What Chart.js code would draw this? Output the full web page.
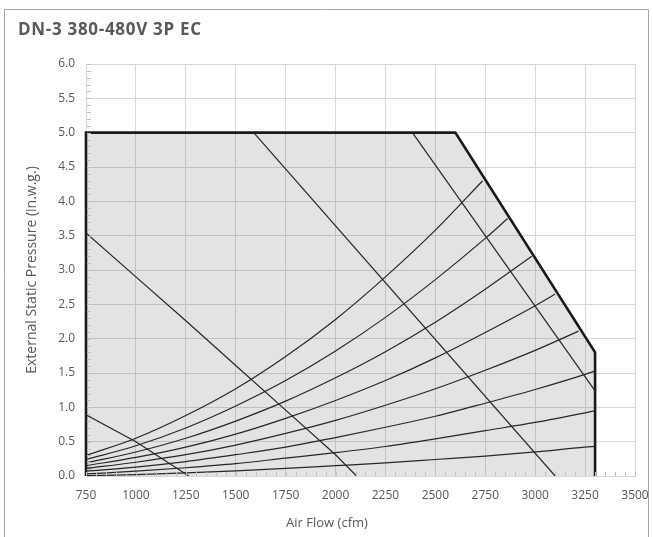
<!DOCTYPE html>
<html>
<head>
<meta charset="utf-8">
<title>DN-3 380-480V 3P EC</title>
<script src="https://cdn.jsdelivr.net/npm/chart.js@4/dist/chart.umd.min.js"></script>
<style>
    html, body { margin: 0; padding: 0; background: #fff; overflow: hidden; }
    canvas { display: block; }
</style>
</head>
<body>
<canvas id="fanChart" width="653" height="537"></canvas>
<script>
    // values
    const chartTitle = 'DN-3 380-480V 3P EC';
    const xTitle = 'Air Flow (cfm)';
    const yTitle = 'External Static Pressure (in.w.g.)';

    // operating envelope (shaded area)
    const limitFlow = [750, 750, 2600, 3300, 3300];
    const limitEsp = [0, 5.0, 5.0, 1.8, 0];

    // system curves, sampled every 250 cfm, each one closed at the envelope
    const systemFlow = [750, 1000, 1250, 1500, 1750, 2000, 2250, 2500, 2750, 3000, 3250];
    const systemEsp = [
        [0.30, 0.55, 0.88, 1.27, 1.74, 2.28, 2.90, 3.58],
        [0.24, 0.44, 0.70, 1.02, 1.39, 1.82, 2.31, 2.86, 3.46],
        [0.19, 0.35, 0.55, 0.80, 1.09, 1.43, 1.81, 2.24, 2.72],
        [0.15, 0.27, 0.42, 0.61, 0.84, 1.10, 1.39, 1.72, 2.09, 2.48],
        [0.11, 0.20, 0.31, 0.45, 0.62, 0.81, 1.03, 1.27, 1.54, 1.83],
        [0.07, 0.13, 0.21, 0.31, 0.42, 0.56, 0.71, 0.87, 1.06, 1.26, 1.48],
        [0.03, 0.07, 0.12, 0.18, 0.26, 0.34, 0.43, 0.54, 0.66, 0.78, 0.92],
        [0.005, 0.02, 0.045, 0.075, 0.11, 0.15, 0.19, 0.24, 0.29, 0.35, 0.42]
    ];
    const systemEndFlow = [2737, 2862, 2983, 3100, 3217, 3300, 3300, 3300];
    const systemEndEsp = [4.30, 3.75, 3.20, 2.65, 2.11, 1.53, 0.95, 0.43];

    // fan speed lines
    const fanFlow = [
        [750, 1000, 1265],
        [750, 1000, 1250, 1500, 1750, 2000, 2105],
        [1590, 3100],
        [2385, 3300]
    ];
    const fanEsp = [
        [0.89, 0.50, 0],
        [3.54, 2.90, 2.26, 1.61, 0.96, 0.31, 0],
        [5.0, 0],
        [5.0, 1.24]
    ];

    const xMin = 750, xMax = 3500, xStep = 250, xMinor = 50;
    const yMin = 0, yMax = 6, yStep = 0.5, yMinor = 0.1;

    const textColor = '#595959',
        gridColor = '#d9d9d9',
        lineColor = '#262626',
        fontFamily = '"Open Sans", Lato, sans-serif';

    const toPoints = (xs, ys) => ys.map((y, i) => ({x: xs[i], y: y}));

    const datasets = [];

    systemEsp.forEach((esp, i) => {
        const points = toPoints(systemFlow, esp);
        points.push({x: systemEndFlow[i], y: systemEndEsp[i]});
        datasets.push({
            data: points,
            borderColor: lineColor,
            borderWidth: 1.2,
            pointRadius: 0,
            cubicInterpolationMode: 'monotone',
            fill: false,
            order: 1
        });
    });

    fanFlow.forEach((flow, i) => {
        datasets.push({
            data: toPoints(flow, fanEsp[i]),
            borderColor: lineColor,
            borderWidth: 1.2,
            pointRadius: 0,
            tension: 0,
            fill: false,
            order: 1
        });
    });

    datasets.push({
        data: toPoints(limitFlow, limitEsp),
        borderColor: '#1a1a1a',
        borderWidth: 2.6,
        backgroundColor: 'rgba(0, 0, 0, 0.11)',
        pointRadius: 0,
        tension: 0,
        fill: 'origin',
        clip: 4,
        order: 10
    });

    // outer frame, titles and the small inside ticks
    const decorations = {
        id: 'decorations',
        beforeDraw(chart) {
            const ctx = chart.ctx;
            ctx.save();
            ctx.fillStyle = '#fff';
            ctx.fillRect(0, 0, chart.width, chart.height);
            ctx.strokeStyle = '#a6a6a6';
            ctx.lineWidth = 1;
            ctx.beginPath();
            ctx.moveTo(4.5, chart.height);
            ctx.lineTo(4.5, 9.5);
            ctx.lineTo(648.5, 9.5);
            ctx.lineTo(648.5, chart.height);
            ctx.stroke();
            ctx.fillStyle = textColor;
            ctx.textBaseline = 'middle';
            ctx.font = 'bold 17px ' + fontFamily;
            ctx.letterSpacing = '0.7px';
            ctx.fillText(chartTitle, 18, 30);
            ctx.letterSpacing = '0px';
            ctx.font = '13px ' + fontFamily;
            ctx.textAlign = 'center';
            ctx.fillText(xTitle, 327, 523);
            ctx.restore();
        },
        afterDatasetsDraw(chart) {
            const ctx = chart.ctx,
                x = chart.scales.x,
                y = chart.scales.y,
                area = chart.chartArea;
            ctx.save();
            ctx.strokeStyle = '#bfbfbf';
            ctx.lineWidth = 1;
            ctx.beginPath();
            for (let i = 0; i <= Math.round((yMax - yMin) / yMinor); i++) {
                const py = Math.round(y.getPixelForValue(yMin + i * yMinor)) + 0.5;
                ctx.moveTo(area.left + 1, py);
                ctx.lineTo(area.left + 5, py);
            }
            for (let i = 0; i <= Math.round((xMax - xMin) / xMinor); i++) {
                const px = Math.round(x.getPixelForValue(xMin + i * xMinor)) + 0.5;
                ctx.moveTo(px, area.bottom);
                ctx.lineTo(px, area.bottom - 4);
            }
            ctx.stroke();
            ctx.restore();
        }
    };

    Chart.defaults.font.family = fontFamily;
    Chart.defaults.font.size = 12;
    Chart.defaults.color = textColor;

    new Chart(document.getElementById('fanChart').getContext('2d'), {
        type: 'line',
        data: {datasets},
        options: {
            responsive: false,
            animation: false,
            layout: {
                padding: {top: 64, left: 5, right: 18, bottom: 0}
            },
            plugins: {
                legend: {display: false},
                tooltip: {enabled: false}
            },
            scales: {
                x: {
                    type: 'linear',
                    min: xMin,
                    max: xMax,
                    grid: {color: gridColor, drawTicks: false},
                    border: {color: gridColor},
                    ticks: {stepSize: xStep, padding: 12, maxRotation: 0, callback: v => String(v)},
                    afterFit: scale => {
                        scale.height = 61;
                        // the last label may hang into the right margin
                        scale.paddingLeft = 0;
                        scale.paddingRight = 0;
                    }
                },
                y: {
                    type: 'linear',
                    min: yMin,
                    max: yMax,
                    grid: {color: gridColor, drawTicks: false},
                    border: {color: gridColor},
                    ticks: {stepSize: yStep, padding: 11, callback: v => v.toFixed(1)},
                    title: {display: true, text: yTitle, font: {size: 14}, padding: {top: 19, bottom: 0}},
                    afterFit: scale => { scale.width = 81; }
                }
            }
        },
        plugins: [decorations]
    });
</script>
</body>
</html>
